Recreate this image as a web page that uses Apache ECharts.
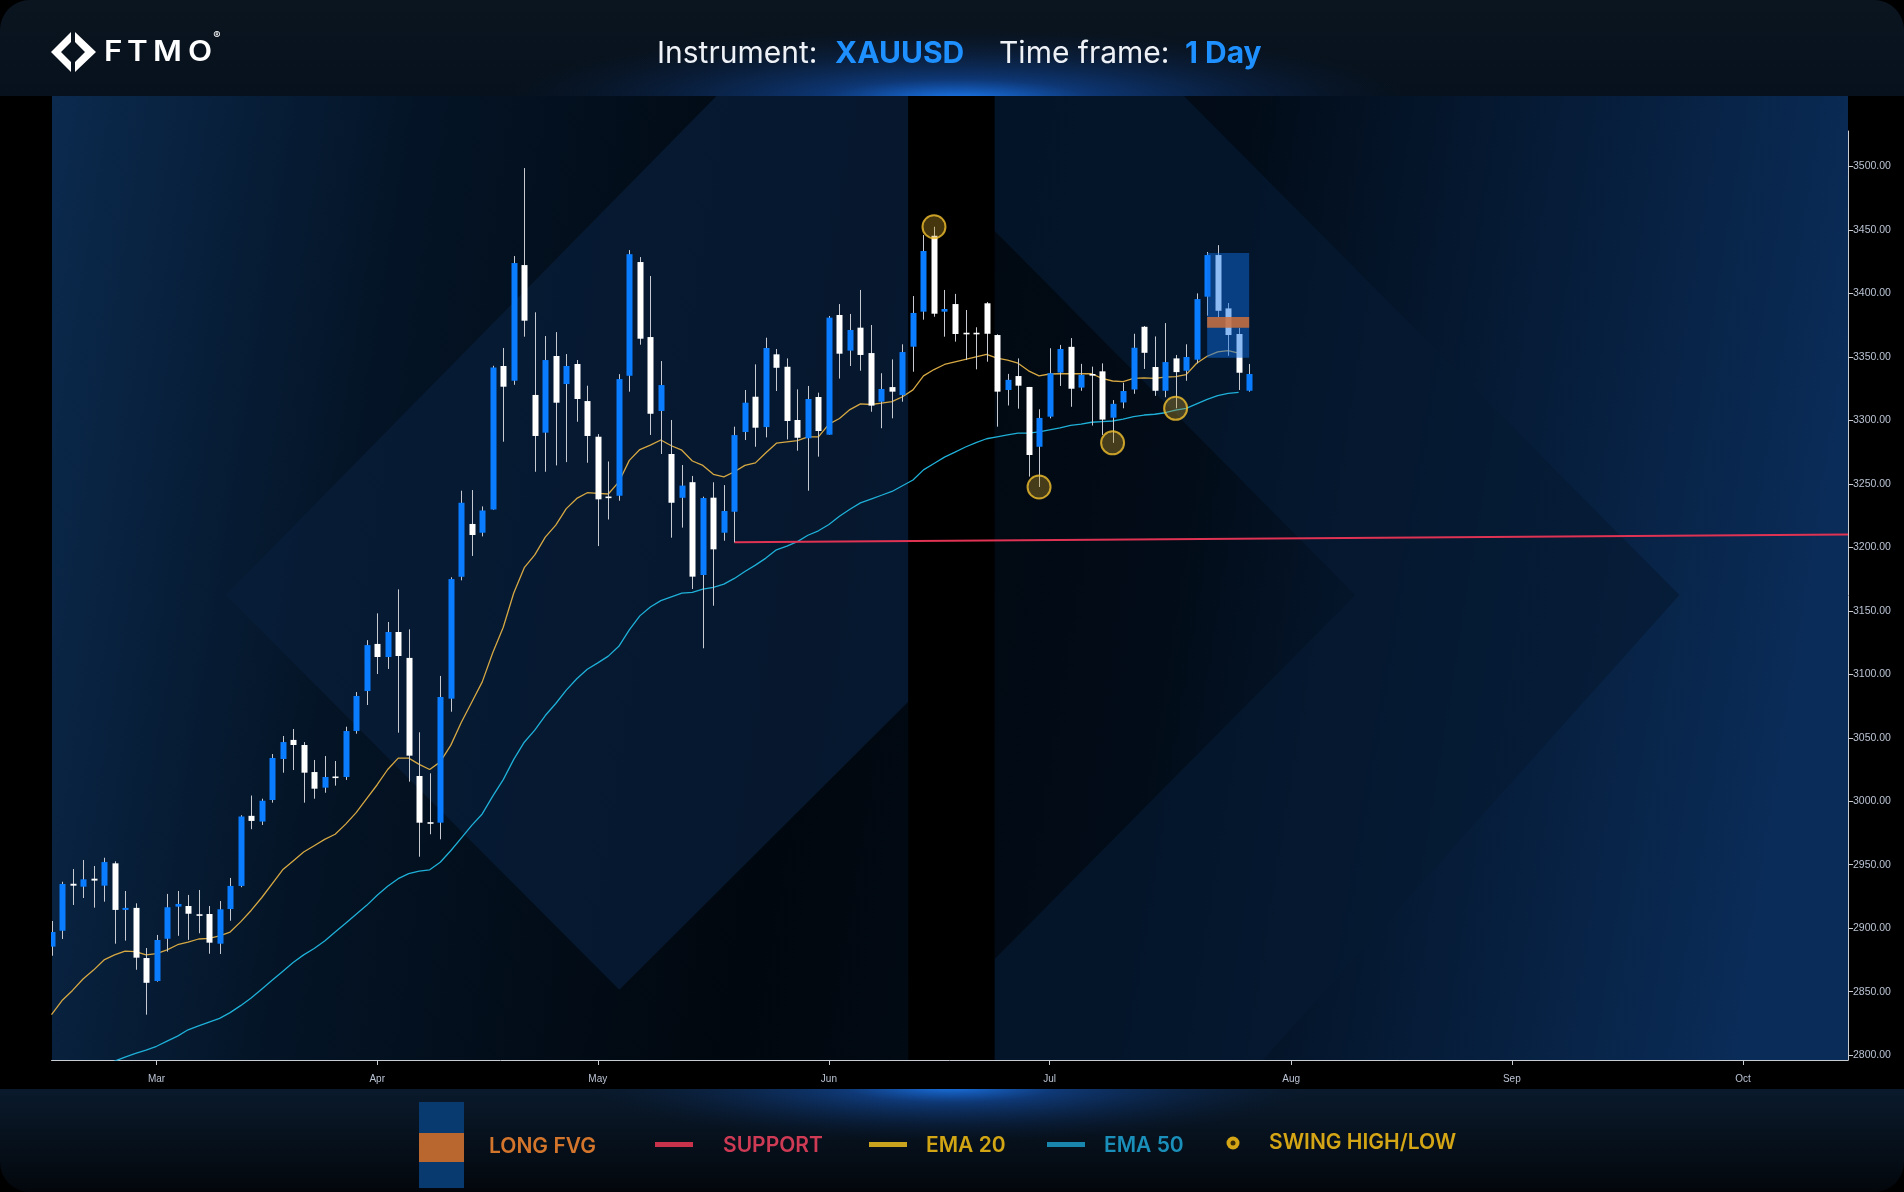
<!DOCTYPE html>
<html><head><meta charset="utf-8">
<script src="https://cdn.jsdelivr.net/npm/echarts@6/dist/echarts.min.js"></script>
<style>html,body{margin:0;padding:0;background:#000;overflow:hidden}#c{width:1904px;height:1192px}</style>
</head><body><div id="c"></div><script>
// ---- trading days (categories) ----
const tradingDays = {
  '2025-02': [17,18,19,20,21,24,25,26,27,28],
  '2025-03': [3,4,5,6,7,10,11,12,13,14,17,18,19,20,21,24,25,26,27,28,31],
  '2025-04': [1,2,3,4,7,8,9,10,11,14,15,16,17,21,22,23,24,25,28,29,30],
  '2025-05': [1,2,5,6,7,8,9,12,13,14,15,16,19,20,21,22,23,26,27,28,29,30],
  '2025-06': [2,3,4,5,6,9,10,11,12,13,16,17,18,19,20,23,24,25,26,27,30],
  '2025-07': [1,2,3,4,7,8,9,10,11,14,15,16,17,18,21,22,23,24,25,28,29,30,31],
  '2025-08': [1,4,5,6,7,8,11,12,13,14,15,18,19,20,21,22,25,26,27,28,29],
  '2025-09': [1,2,3,4,5,8,9,10,11,12,15,16,17,18,19,22,23,24,25,26,29,30],
  '2025-10': [1,2,3,6,7,8,9,10,13,14,15]
};
const monthLabels = {'2025-03-03':'Mar','2025-04-01':'Apr','2025-05-01':'May','2025-06-02':'Jun','2025-07-01':'Jul','2025-08-01':'Aug','2025-09-01':'Sep','2025-10-01':'Oct'};
const yTicks = [2800,2850,2900,2950,3000,3050,3100,3150,3200,3250,3300,3350,3400,3450,3500];

// ---- OHLC (XAUUSD, daily) ----
const opens = [2885.5,2898,2935,2932.7,2939,2933.5,2951.1,2914.4,2916,2876.5,
 2858.4,2891.7,2917,2917.5,2911,2911.2,2887.8,2915.1,2933.3,2988.5,2984,3001,3033.3,3048.3,3044.3,3023,3010.7,3019.5,3019.1,3055.3,3086.8,
 3123.9,3113.6,3133.3,3112.9,3019.9,2983.5,2983.1,3080.8,3176.8,3218.4,3211.5,3229.8,3342.8,3331.2,3422.3,3320,3290.3,3350.7,3328.6,3344.4,3315.2,
 3287.1,3240,3240.6,3335.1,3424.7,3365.6,3307.4,3273.5,3239,3251.3,3178.2,3239.1,3211.5,3228,3290.8,3318.6,3294.7,3352,3342.2,3300.3,3285.9,3318.4,
 3288.7,3383,3354.9,3373,3353,3314.7,3326.2,3319.9,3358,3385.6,3445.4,3385.6,3391.6,3369,3369,3392.2,3367.2,3323.9,3334.9,3326.3,3279.2,
 3302.9,3337.6,3357.9,3325.8,3336.5,3338.6,3302.1,3314.1,3324.3,3373.7,3342,3323.3,3348.8,3339.1,3347.8,3397.4,3430.2,3388.2,3368,3323.3];
const highs = [2905.7,2936.6,2946.6,2953.7,2949,2955.5,2952.7,2929.3,2919.6,2884.4,
 2894.7,2927,2929.3,2926.2,2930.1,2917.5,2921.4,2939.6,2989,3004.5,3002,3037.2,3051.4,3056.9,3046.6,3032.5,3035.6,3031.7,3058.7,3086,3126.9,
 3148,3141.2,3166.9,3135.4,3054.3,3022,3098.7,3176.4,3244.6,3245.1,3232.2,3343,3357,3429.4,3498.7,3385.1,3366.4,3369.5,3352.2,3347.5,3327.3,
 3289.2,3267.6,3336.4,3434.1,3428.6,3413.7,3346.7,3300.3,3264.8,3256.2,3239.9,3251.2,3249,3295,3323.9,3344.1,3365.1,3356.2,3348.8,3324.4,3327.1,3321.8,
 3382.2,3391.6,3383.8,3402.7,3375.1,3337.1,3348,3359.9,3397.9,3446,3452.5,3402.7,3399.6,3386.9,3373.3,3393.2,3367.8,3336.6,3348.8,3326.3,3308.7,
 3356.8,3359.4,3364.8,3344.5,3342.3,3344.9,3316,3329.6,3368.2,3374.3,3366.1,3376.6,3351.5,3359.9,3400,3432.6,3438,3392.4,3372.8,3344.4];
const lows = [2878.3,2891.5,2918.3,2923.8,2916.2,2920.9,2887.8,2890.2,2867.3,2831.9,
 2857.9,2881.5,2894,2890.8,2896,2879.9,2879.7,2905.9,2932.3,2978,2981.3,2998.9,3022.5,3024.6,2998.9,3002,3006.7,3012.3,3016.8,3053.2,3075.8,
 3100.2,3104.2,3054,3015.4,2956.3,2974,2970,3070.5,3174,3193.2,3208.6,3229.6,3283.2,3328,3365.9,3259.5,3259.5,3264.5,3267.1,3298.9,3266.6,
 3201,3221.9,3236.7,3322.6,3359.6,3288.5,3273.5,3207.6,3215.5,3167.2,3120.5,3154,3205.2,3203.9,3284.5,3279.2,3286.6,3323.1,3285,3276.1,3244.6,3271.4,
 3288.7,3332.9,3342.8,3339.1,3306.8,3293.8,3301.6,3314.7,3338.3,3379.3,3381.6,3365.9,3362,3347.5,3340.2,3346.2,3295,3311.7,3309.2,3255.7,3247.5,
 3301.6,3327.1,3310.7,3323.3,3295.9,3288.5,3282.3,3309.5,3320.9,3340.5,3319.3,3318.2,3309.5,3331.2,3344.9,3382.4,3381,3350.9,3323.9,3322.6];
const closes = [2897,2934.8,2933.5,2938.5,2937.5,2952.1,2914.4,2916,2876.8,2857,
 2890.7,2916.5,2919.1,2911.4,2910.5,2888.6,2914.9,2933.3,2988,2984.5,3000.4,3034.1,3046.6,3044.3,3022.5,3009.9,3019.1,3019,3055.3,3082.9,3123,
 3113.6,3133.3,3114.4,3035.9,2983.1,2982.5,3082.1,3175,3235.1,3209.7,3229,3341.7,3326.5,3423.9,3378.5,3287.7,3347.5,3313.9,3342.8,3316.8,3287.7,
 3237.8,3239,3332.5,3430.9,3364.3,3305.2,3327.8,3235.1,3248.6,3176.9,3238.8,3198.4,3228.6,3288.4,3313.9,3294.2,3357,3341.4,3299.5,3286.3,3316.8,3291.6,
 3380.9,3352.5,3371.2,3351.5,3311.6,3324.7,3322.6,3353.8,3384.6,3433.4,3384,3387.7,3368,3368.5,3368.2,3368.2,3322.6,3331.9,3327.3,3272.7,3301.9,
 3337.1,3356.2,3324.9,3335.8,3336,3300.6,3313,3323.1,3357.2,3353.2,3323.3,3345.9,3338,3349.9,3395.5,3430.2,3386.3,3367.2,3337.5,3336.5];

// ---- moving averages ----
const ema20 = [2832,2843,2851,2860,2867,2875,2879,2882,2881.5,2879,
 2880,2883,2887,2889,2891.5,2892,2894,2897,2905,2914,2924,2935,2946,2953,2960,2965,2970,2974,2982,2991,3002,
 3013,3025,3034,3034,3029,3025,3031,3044,3062,3078,3094,3117,3137,3164,3184,3194,3208,3217.5,3230.5,3238.5,3243,
 3242.5,3242,3251.5,3268.5,3277,3280.5,3284.5,3280,3276.5,3268,3264.5,3257.5,3255.5,3259.5,3264.5,3266.5,3274.5,3282,3283,3284,3287,3287,
 3297,3301.5,3308.5,3313,3312.5,3313.5,3314.7,3318.6,3324,3335,3340,3344,3346,3348,3350,3352,3349,3347.5,3345,3339,3335,
 3336.5,3336.7,3336.7,3336.7,3336.7,3333,3331,3330.5,3333,3333.5,3333,3334,3334.5,3336,3345,3350.5,3354,3355,3353];
const ema50 = [null,null,null,null,null,2792,2795.3,2798.4,2801.5,2804,
 2807,2811,2815,2820,2823,2826,2829,2833.5,2839,2845,2852,2859,2866,2873,2879,2884,2890,2897,2904,2911,2918,
 2926,2933,2939,2943,2945,2946,2952,2961,2971,2981,2990,3004,3017,3033,3046.5,3056,3067.5,3077,3087.5,3096.5,3104,
 3109,3114.3,3122,3135,3146,3153,3158,3161,3164,3164.5,3167,3168.5,3171,3175.5,3181,3186,3191.5,3198,3201,3204.5,3209.5,3213,
 3218,3224.5,3230,3235,3238,3241,3244,3248.5,3253,3261,3266,3271,3275,3279,3282.5,3285.5,3287,3288.5,3290,3290,3291,
 3292.5,3294,3296,3297,3298.5,3299,3299.5,3301,3303,3304.2,3304.8,3306,3308,3309.5,3313,3316.5,3319.5,3321.3,3322];

const swingPoints = [[84,3452.5],[94,3247.5],[101,3282.3],[107,3309.5]];
const supportLine = [[65,3204],[171,3210]];
const fvgZone = [[110,114,3431.8,3349.3]];
const fvgBand = [[110,114,3381.4,3373]];

// ---- build ----
const categories = [];
Object.keys(tradingDays).forEach(m => tradingDays[m].forEach(d => categories.push(m + '-' + String(d).padStart(2,'0'))));
const candleData = opens.map((o,i) => [i, o, highs[i], lows[i], closes[i]]);

function renderCandle(params, api){
  const i = api.value(0), o = api.value(1), h = api.value(2), l = api.value(3), c = api.value(4);
  const pO = api.coord([i,o]), pC = api.coord([i,c]), pH = api.coord([i,h]), pL = api.coord([i,l]);
  const x = Math.round(pO[0]);
  const top = Math.min(pO[1],pC[1]), bot = Math.max(pO[1],pC[1]);
  const bull = c >= o;
  return {type:'group', children:[
    {type:'line', shape:{x1:x+0.5,y1:pH[1],x2:x+0.5,y2:pL[1]}, style:{stroke:'#c6cad0',lineWidth:1}},
    {type:'rect', shape:{x:x-2.5,y:top,width:6,height:Math.max(bot-top,1.6)}, style:{fill: bull ? '#0a7cff' : '#ffffff'}}
  ]};
}
function renderZone(color){
  return function(params, api){
    const a = api.coord([api.value(0), api.value(2)]);
    const b = api.coord([api.value(1), api.value(3)]);
    return {type:'rect', shape:{x:a[0],y:a[1],width:b[0]-a[0],height:b[1]-a[1]}, style:{fill:color}};
  };
}

const F = 1904/1568;
function P(pts){ return pts.map(p => [p[0]*F, p[1]*F]); }
const glowStops = a => [{offset:0,color:'rgba(28,130,255,'+a+')'},{offset:0.3,color:'rgba(20,95,210,'+(a*0.5)+')'},{offset:1,color:'rgba(10,40,90,0)'}];

const graphics = [
  // page card
  {type:'rect', shape:{x:0,y:0,width:1904,height:1192,r:30}, style:{fill:'#000'}, z:-20},
  // header
  {type:'rect', shape:{x:0,y:0,width:1904,height:96,r:[30,30,0,0]}, style:{fill:{type:'linear',x:0,y:0,x2:0,y2:1,colorStops:[{offset:0,color:'#0b1520'},{offset:1,color:'#07111d'}]}}, z:-19},
  {type:'circle', x:958, y:100, scaleX:6.5, scaleY:1, shape:{cx:0,cy:0,r:70}, style:{fill:{type:'radial',x:0.5,y:0.5,r:0.5,colorStops:glowStops(0.95)}}, z:-18},
  // bottom band
  {type:'rect', shape:{x:0,y:1089,width:1904,height:103,r:[0,0,30,30]}, style:{fill:{type:'linear',x:0,y:0,x2:0,y2:1,colorStops:[{offset:0,color:'#0a1a2c'},{offset:1,color:'#03070c'}]}}, z:-19},
  {type:'circle', x:950, y:1086, scaleX:6.5, scaleY:1, shape:{cx:0,cy:0,r:55}, style:{fill:{type:'radial',x:0.5,y:0.5,r:0.5,colorStops:glowStops(0.9)}}, z:-18},
  {type:'rect', shape:{x:0,y:96,width:1904,height:993}, style:{fill:'#000'}, z:-17},
  // plot background
  {type:'rect', shape:{x:52,y:96,width:1796,height:964}, style:{fill:{type:'linear',x:0,y:0,x2:1,y2:0.3,colorStops:[{offset:0,color:'#0b2a4e'},{offset:0.2,color:'#041426'},{offset:0.45,color:'#01070e'},{offset:0.65,color:'#020c18'},{offset:1,color:'#0a2c58'}]}}, z:-16},
  {type:'polygon', shape:{points:P([[186,490],[590,79],[748,79],[748,578],[510,815]])}, style:{fill:'rgba(8,30,58,0.75)'}, z:-15},
  {type:'polygon', shape:{points:P([[819,79],[975,79],[1383,490],[1040,873],[819,873],[819,790],[1116,490],[819,190]])}, style:{fill:'rgba(6,26,50,0.7)'}, z:-15},
  {type:'rect', shape:{x:748*F,y:96,width:71*F,height:964}, style:{fill:'#000'}, z:-14},
  // logo
  {type:'polygon', shape:{points:[[51,52],[71,32],[71,42],[61,52],[71,62],[71,72]]}, style:{fill:'#fff'}, z:10},
  {type:'polygon', shape:{points:[[75,32],[96,52],[75,72],[75,62],[85,52],[75,42]]}, style:{fill:'#fff'}, z:10},
  {type:'text', x:104, y:53, scaleX:1.12, style:{text:'F', x:0, y:0, fill:'#fff', font:'600 28px Inter', textVerticalAlign:'middle'}, z:10},
  {type:'text', x:127, y:53, scaleX:1.12, style:{text:'T', x:0, y:0, fill:'#fff', font:'600 28px Inter', textVerticalAlign:'middle'}, z:10},
  {type:'text', x:153, y:53, scaleX:1.12, style:{text:'M', x:0, y:0, fill:'#fff', font:'600 28px Inter', textVerticalAlign:'middle'}, z:10},
  {type:'text', x:188, y:53, scaleX:1.12, style:{text:'O', x:0, y:0, fill:'#fff', font:'600 28px Inter', textVerticalAlign:'middle'}, z:10},
  {type:'text', style:{text:'®', x:217, y:36, fill:'#fff', font:'11px Inter', textAlign:'center', textVerticalAlign:'middle'}, z:10},
  // title
  {type:'text', style:{text:'Instrument:', x:657, y:54, fill:'#eef1f5', font:'400 30px Inter', textVerticalAlign:'middle'}, z:10},
  {type:'text', style:{text:'XAUUSD', x:835, y:54, fill:'#1e90ff', font:'700 30px Inter', textVerticalAlign:'middle'}, z:10},
  {type:'text', style:{text:'Time frame:', x:999, y:54, fill:'#eef1f5', font:'400 30px Inter', textVerticalAlign:'middle'}, z:10},
  {type:'text', style:{text:'1 Day', x:1185, y:54, fill:'#1e90ff', font:'700 30px Inter', textVerticalAlign:'middle'}, z:10},
  // legend
  {type:'rect', shape:{x:419,y:1102,width:45,height:31}, style:{fill:'#083a70'}, z:10},
  {type:'rect', shape:{x:419,y:1133,width:45,height:29}, style:{fill:'#b9672f'}, z:10},
  {type:'rect', shape:{x:419,y:1162,width:45,height:26}, style:{fill:'#083a70'}, z:10},
  {type:'text', style:{text:'LONG FVG', x:489, y:1147, fill:'#d4752c', font:'600 21px Inter', textVerticalAlign:'middle'}, z:10},
  {type:'rect', shape:{x:655,y:1142,width:38,height:5}, style:{fill:'#c8334b'}, z:10},
  {type:'text', style:{text:'SUPPORT', x:723, y:1146, fill:'#cf3a55', font:'600 21px Inter', textVerticalAlign:'middle'}, z:10},
  {type:'rect', shape:{x:869,y:1142,width:38,height:5}, style:{fill:'#c9a31d'}, z:10},
  {type:'text', style:{text:'EMA 20', x:926, y:1146, fill:'#d1a513', font:'600 21px Inter', textVerticalAlign:'middle'}, z:10},
  {type:'rect', shape:{x:1047,y:1142,width:38,height:5}, style:{fill:'#1886ad'}, z:10},
  {type:'text', style:{text:'EMA 50', x:1104, y:1146, fill:'#1a8fb9', font:'600 21px Inter', textVerticalAlign:'middle'}, z:10},
  {type:'circle', shape:{cx:1233,cy:1143,r:6.5}, style:{fill:'#d4a514'}, z:10},
  {type:'circle', shape:{cx:1233,cy:1143,r:2.5}, style:{fill:'#3a2e08'}, z:11},
  {type:'text', style:{text:'SWING HIGH/LOW', x:1269, y:1143, fill:'#d4a514', font:'600 21px Inter', textVerticalAlign:'middle'}, z:10}
];

const chart = echarts.init(document.getElementById('c'), null, {renderer:'canvas'});
chart.setOption({
  backgroundColor:'transparent',
  animation:false,
  graphic: graphics,
  grid:{left:51.5, right:56, top:131, bottom:132, containLabel:false},
  xAxis:{type:'category', data:categories, boundaryGap:false,
    axisLine:{lineStyle:{color:'#c8cdd3',width:1}},
    axisTick:{interval:(i,v)=>!!monthLabels[v], length:5, lineStyle:{color:'#c8cdd3'}},
    axisLabel:{interval:(i,v)=>!!monthLabels[v], formatter:v=>monthLabels[v]||'', color:'#b9c3d3', fontSize:10, fontFamily:'Liberation Sans', margin:14},
    splitLine:{show:false}},
  yAxis:{type:'value', position:'right', min:2796.2, max:3527.9, scale:true,
    axisLine:{show:true, lineStyle:{color:'#c8cdd3',width:1}},
    axisTick:{show:true, length:5, customValues:yTicks, lineStyle:{color:'#c8cdd3'}},
    axisLabel:{customValues:yTicks, formatter:v=>Number(v).toFixed(2), color:'#b9c3d3', fontSize:10.5, fontFamily:'Liberation Sans', margin:5, verticalAlign:'middle', lineHeight:12, padding:[5,0,0,0]},
    splitLine:{show:false}},
  series:[
    {type:'line', data:ema50, symbol:'none', lineStyle:{color:'#1fb0d8', width:1.3}, z:3, clip:true},
    {type:'line', data:ema20, symbol:'none', lineStyle:{color:'#d6a843', width:1.3}, z:3, clip:true},
    {type:'line', data:supportLine, symbol:'none', lineStyle:{color:'#e03354', width:2}, z:3, clip:true},
    {type:'custom', data:candleData, renderItem:renderCandle, encode:{x:0,y:[1,2,3,4]}, z:4, clip:true},
    {type:'custom', data:fvgZone, renderItem:renderZone('rgba(12,110,230,0.47)'), encode:{x:[0,1],y:[2,3]}, z:5},
    {type:'custom', data:fvgBand, renderItem:renderZone('rgba(205,112,60,0.85)'), encode:{x:[0,1],y:[2,3]}, z:6},
    {type:'scatter', data:swingPoints, symbolSize:23, itemStyle:{color:'rgba(190,150,40,0.45)', borderColor:'#f2c12e', borderWidth:2}, z:7}
  ]
});
</script></body></html>
